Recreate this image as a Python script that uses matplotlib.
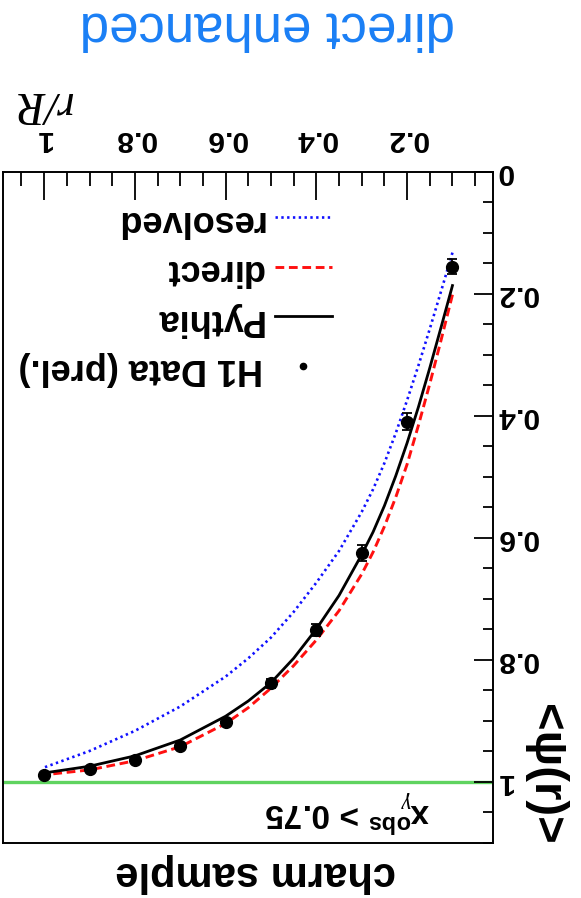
import matplotlib
matplotlib.use("Agg")
import matplotlib.pyplot as plt
from matplotlib.lines import Line2D
from matplotlib.ticker import FixedLocator, MultipleLocator

plt.rcParams['font.family'] = ['Liberation Sans', 'DejaVu Sans']
plt.rcParams['mathtext.fontset'] = 'custom'
plt.rcParams['mathtext.rm'] = 'Liberation Sans'
plt.rcParams['mathtext.bf'] = 'Liberation Sans:bold'
plt.rcParams['mathtext.it'] = 'Liberation Serif:italic'

# H1 measurement of the integrated jet shape
r_data = [0.1, 0.2, 0.3, 0.4, 0.5, 0.6, 0.7, 0.8, 0.9, 1.0]
psi_data = [0.156, 0.410, 0.626, 0.751, 0.839, 0.902, 0.941, 0.964, 0.979, 0.989]
psi_err = [0.012, 0.014, 0.013, 0.010, 0.007, 0.005, 0.004, 0.003, 0.003, 0.002]

# Monte Carlo predictions
r_curve = [0.1, 0.125, 0.15, 0.175, 0.2, 0.225, 0.25, 0.275, 0.3, 0.35, 0.4,
           0.45, 0.5, 0.55, 0.6, 0.7, 0.8, 0.9, 1.0]
psi_pythia = [0.187, 0.255, 0.322, 0.386, 0.445, 0.499, 0.548, 0.591, 0.628,
              0.695, 0.750, 0.798, 0.838, 0.868, 0.893, 0.932, 0.958, 0.975,
              0.986]
psi_direct = [0.202, 0.276, 0.348, 0.416, 0.480, 0.534, 0.582, 0.624, 0.660,
              0.720, 0.768, 0.810, 0.847, 0.879, 0.905, 0.943, 0.966, 0.981,
              0.989]
psi_resolved = [0.133, 0.196, 0.258, 0.318, 0.375, 0.429, 0.478, 0.521, 0.558,
                0.622, 0.674, 0.722, 0.764, 0.798, 0.828, 0.877, 0.917, 0.950,
                0.977]
unity = 1.0

x_major = [0.2, 0.4, 0.6, 0.8, 1.0]
x_labels = ["0.2", "0.4", "0.6", "0.8", "1"]
y_major = [0.0, 0.2, 0.4, 0.6, 0.8, 1.0]
y_labels = ["0", "0.2", "0.4", "0.6", "0.8", "1"]

W, H = 581, 898


def fx(px):
    return px / W


def fy(py):
    return 1 - py / H


fig = plt.figure(figsize=(W / 100, H / 100), dpi=100)
ax = fig.add_axes([fx(3.3), fy(842.5), (493.3 - 3.3) / W, (842.5 - 171.5) / H])

ax.set_xlim(1.09, 0.01)
ax.set_ylim(1.1, 0.0)

ax.axhline(unity, color='#5fd35f', lw=2.4, zorder=1)

ax.plot(r_curve, psi_resolved, color='#1010ff', lw=1.9, ls=(0, (0.9, 1.3)),
        label='resolved', zorder=2)
ax.plot(r_curve, psi_direct, color='#ff1010', lw=2.1, ls=(0, (3.0, 1.6)),
        label='direct', zorder=2)
ax.plot(r_curve, psi_pythia, color='black', lw=2.0, label='Pythia', zorder=3)
ax.errorbar(r_data, psi_data, yerr=psi_err, fmt='o', color='black', ms=8.5,
            capsize=3.5, elinewidth=1.3, capthick=1.3, zorder=5)

# axes styling
ax.xaxis.tick_top()
ax.yaxis.tick_right()
ax.xaxis.set_major_locator(FixedLocator(x_major))
ax.xaxis.set_minor_locator(MultipleLocator(0.05))
ax.yaxis.set_major_locator(FixedLocator(y_major))
ax.yaxis.set_minor_locator(MultipleLocator(0.05))
ax.set_xticklabels(x_labels)
ax.set_yticklabels(y_labels)
for s in ax.spines.values():
    s.set_linewidth(1.4)
ax.tick_params(axis='x', which='major', direction='in', length=20, width=1.3,
               labelrotation=180, pad=13, labelsize=21.5)
ax.tick_params(axis='x', which='minor', direction='in', length=10, width=1.3)
ax.tick_params(axis='y', which='major', direction='in', length=14, width=1.3,
               labelrotation=180, pad=2, labelsize=21.5)
ax.tick_params(axis='y', which='minor', direction='in', length=7, width=1.3)
for t in ax.get_xticklabels() + ax.get_yticklabels():
    t.set_fontweight('bold')
for t in ax.get_yticklabels():
    t.set_verticalalignment('center')

# legend
handles = [ax.lines[1], ax.lines[2], ax.lines[3],
           Line2D([], [], color='black', marker='o', ls='none', ms=4.5)]
labels = ['resolved', 'direct', 'Pythia', 'H1 Data (prel.)']
leg = ax.legend(handles, labels, loc='upper right',
                bbox_to_anchor=(fx(332), fy(203)), bbox_transform=fig.transFigure,
                frameon=False, markerfirst=False, borderpad=0, borderaxespad=0,
                handlelength=1.58, handletextpad=0.33, labelspacing=0.40,
                prop={'family': 'Liberation Sans', 'weight': 'bold', 'size': 26})
for t in leg.get_texts():
    t.set_rotation(180)

# annotations
txt = dict(rotation=180, rotation_mode='anchor', ha='center', va='baseline')
fig.text(fx(267.5), fy(12), 'direct enhanced', fontsize=38, color='#1a7ff5', **txt)
fig.text(fx(42.5), fy(92), 'r/R', fontsize=33, family='Liberation Serif',
         style='italic', **txt)
fig.text(fx(255.5), fy(862), 'charm sample', fontsize=30, fontweight='bold', **txt)
fig.text(fx(347.5), fy(803), r'$\mathbf{x}_{\gamma}^{\mathbf{obs}}$ > 0.75',
         fontsize=24, fontweight='bold', **txt)
fig.text(fx(533), fy(845), '<ψ(r)>', fontsize=34, fontweight='bold',
         rotation=270, rotation_mode='anchor', ha='right', va='baseline')

fig.savefig('out.png', dpi=100)
